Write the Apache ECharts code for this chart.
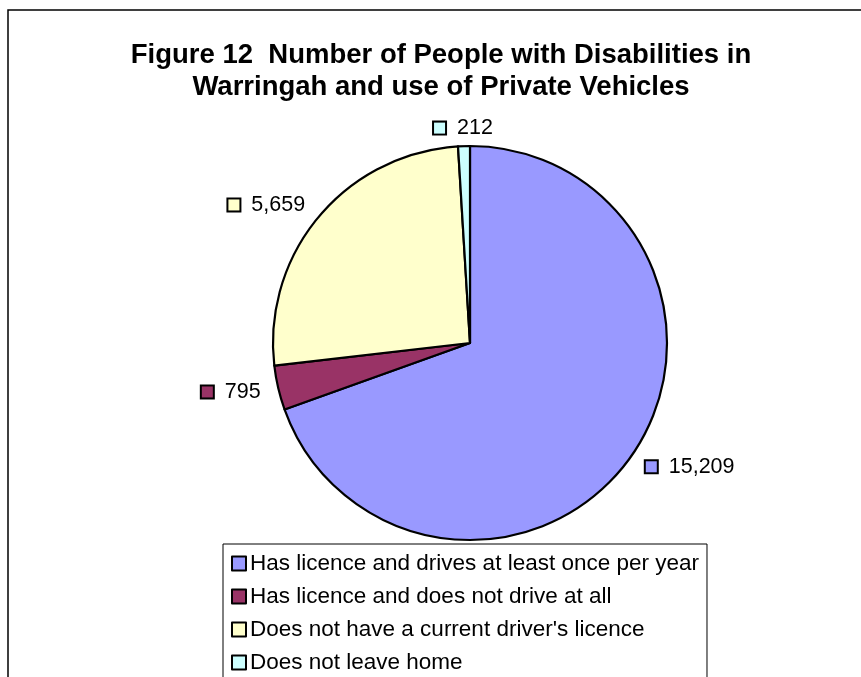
<!DOCTYPE html>
<html>
<head>
<meta charset="utf-8">
<script src="https://cdn.jsdelivr.net/npm/echarts@6/dist/echarts.min.js"></script>
<style>
  html, body { margin: 0; padding: 0; background: #fff; }
  #chart { width: 861px; height: 677px; }
</style>
</head>
<body>
<div id="chart"></div>
<script>
// Disability survey: use of private vehicles in Warringah
const categories = [
  'Has licence and drives at least once per year',
  'Has licence and does not drive at all',
  "Does not have a current driver's licence",
  'Does not leave home'
];
const people = [15209, 795, 5659, 212];
const sliceColors = ['#9999FF', '#993366', '#FFFFCC', '#CCFFFF'];

const FONT = '"Liberation Sans", Arial, sans-serif';
const PIE_CENTER = [470, 343];
const PIE_RADIUS = 197;

const chart = echarts.init(document.getElementById('chart'), null, { renderer: 'canvas' });

const pieData = categories.map((name, i) => ({
  name,
  value: people[i],
  itemStyle: { color: sliceColors[i] },
  label: {
    rich: {
      key: {
        width: 11, height: 11,
        backgroundColor: sliceColors[i],
        borderColor: '#000', borderWidth: 2
      }
    }
  }
}));

chart.setOption({
  animation: false,
  backgroundColor: '#fff',
  title: {
    text: 'Figure 12  Number of People with Disabilities in\nWarringah and use of Private Vehicles',
    left: 441,
    top: 39,
    padding: 0,
    textAlign: 'center',
    textStyle: {
      fontFamily: FONT,
      fontSize: 27.5,
      fontWeight: 'bold',
      color: '#000',
      lineHeight: 32
    }
  },
  legend: {
    orient: 'vertical',
    left: 223,
    top: 544,
    height: 300,
    padding: 8,
    itemGap: 10,
    itemWidth: 14,
    itemHeight: 14,
    icon: 'rect',
    backgroundColor: '#fff',
    borderColor: '#000',
    borderWidth: 1,
    selectedMode: false,
    data: categories,
    itemStyle: { borderColor: '#000', borderWidth: 2 },
    textStyle: {
      fontFamily: FONT,
      fontSize: 22.5,
      color: '#000',
      padding: [0, 0, 0, -1]
    }
  },
  graphic: [{
    type: 'rect',
    silent: true,
    shape: { x: 8, y: 10, width: 900, height: 720 },
    style: { fill: 'none', stroke: '#000', lineWidth: 1.5 },
    z: -10
  }],
  series: [{
    type: 'pie',
    center: PIE_CENTER,
    radius: PIE_RADIUS,
    startAngle: 90,
    clockwise: true,
    silent: true,
    avoidLabelOverlap: false,
    itemStyle: { borderColor: '#000', borderWidth: 2.2 },
    label: {
      show: true,
      position: 'outside',
      distanceToLabelLine: 0,
      fontFamily: FONT,
      fontSize: 21.5,
      color: '#000',
      formatter: p => '{key|}  ' + p.value.toLocaleString('en-US')
    },
    labelLine: { show: false, length: 18, length2: 0 },
    // labels that sit right above the centre are centred on their slice
    labelLayout: p => {
      const r = p.labelRect;
      const anchorX = p.align === 'left' ? r.x : r.x + r.width;
      return Math.abs(anchorX - PIE_CENTER[0]) < PIE_RADIUS * 0.15
        ? { x: anchorX, align: 'center' } : {};
    },
    emphasis: { disabled: true },
    data: pieData
  }]
});
</script>
</body>
</html>
